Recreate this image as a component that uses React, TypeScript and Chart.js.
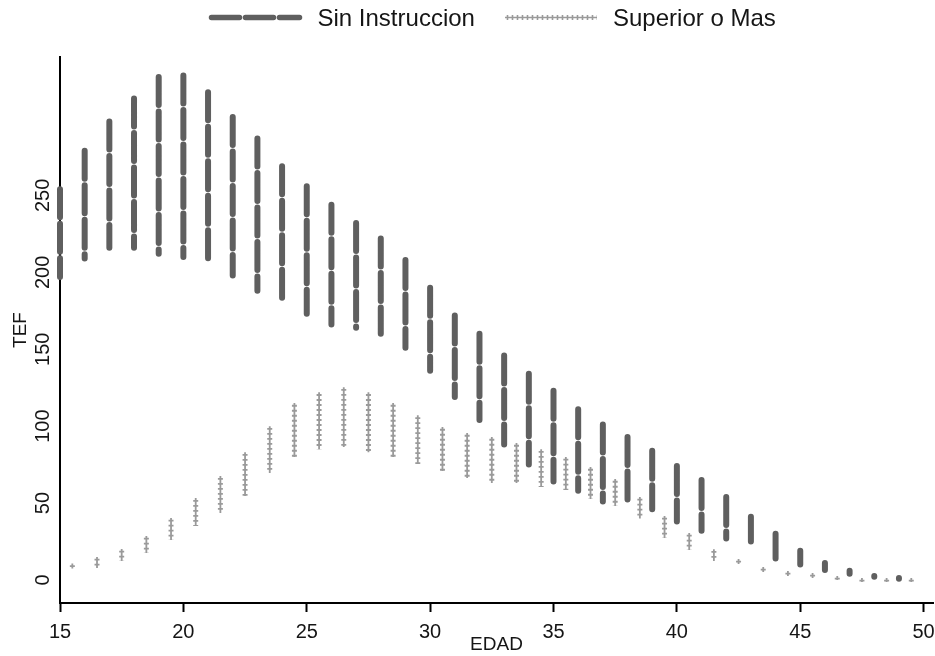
import React, { useEffect, useRef } from "react";
import Chart from "chart.js/auto";

// ---- Data ----
const ages = [15, 16, 17, 18, 19, 20, 21, 22, 23, 24, 25, 26, 27, 28, 29, 30, 31, 32, 33, 34, 35, 36, 37, 38, 39, 40, 41, 42, 43, 44, 45, 46, 47, 48, 49];
const sinHi = [254, 279, 298, 313, 327, 328, 317, 301, 287, 269, 256, 244, 232, 222, 208, 190, 172, 160, 146, 134, 123, 111, 101, 93, 84, 74, 65, 54, 41, 30, 19, 11, 6, 2.5, 1.2];
const sinLo = [197, 209, 216, 216, 212, 210, 206, 198, 188, 181, 173, 166, 164, 160, 151, 136, 119, 104, 88, 75, 64, 58, 51, 49, 46, 38, 32, 27, 25, 14, 10, 6.5, 4, 2, 0.8];

const supAges = [15.5, 16.5, 17.5, 18.5, 19.5, 20.5, 21.5, 22.5, 23.5, 24.5, 25.5, 26.5, 27.5, 28.5, 29.5, 30.5, 31.5, 32.5, 33.5, 34.5, 35.5, 36.5, 37.5, 38.5, 39.5, 40.5, 41.5, 42.5, 43.5, 44.5, 45.5, 46.5, 47.5, 48.5, 49.5];
const supHi = [10.7, 14.9, 20.1, 28.6, 40.3, 53.2, 67.5, 83, 100, 115, 122, 125.3, 122, 115, 107, 99.4, 95.5, 92.9, 89, 85, 80, 73.4, 65.6, 54, 41.6, 30.5, 20, 13.6, 8.4, 5.8, 4.5, 2.6, 1.3, 1.3, 1.3];
const supLo = [7.5, 7.8, 12.3, 17.5, 26, 35, 43.5, 54.5, 69.5, 80, 85, 86.4, 83, 80, 75.3, 70.8, 66.2, 63, 63, 60.4, 58.5, 52.6, 48, 40, 27.3, 19.5, 12.3, 10.4, 5.2, 2.6, 1.3, 0, -1.3, -1.3, -1.3];

const xTickValues = [15, 20, 25, 30, 35, 40, 45, 50];
const yTickValues = [0, 50, 100, 150, 200, 250];

const seriesNames = ["Sin Instruccion", "Superior o Mas"];
const xTitle = "EDAD";
const yTitle = "TEF";

const DARK = "#5f5f5f";
const LIGHT = "#9a9a9a";
const TEXT = "#151515";
const FONT = '"Liberation Sans", Arial, sans-serif';

function ranges(xs: number[], hi: number[], lo: number[]) {
  const out: { x: number; y: number | null }[] = [];
  xs.forEach((x, i) => {
    out.push({ x, y: hi[i] });
    out.push({ x, y: lo[i] });
    out.push({ x, y: null });
  });
  return out;
}

const yLabelPlugin = {
  id: "yLabels",
  afterDraw(chart: any) {
    const scale = chart.scales.y;
    const ctx = chart.ctx;
    ctx.save();
    ctx.font = `20px ${FONT}`;
    ctx.fillStyle = TEXT;
    ctx.textAlign = "center";
    ctx.textBaseline = "middle";
    yTickValues.forEach((v) => {
      const py = scale.getPixelForValue(v);
      ctx.save();
      ctx.translate(scale.right - 17, py);
      ctx.rotate(-Math.PI / 2);
      ctx.fillText(String(v), 0, 0);
      ctx.restore();
    });
    ctx.restore();
  },
};

export default function App() {
  const ref = useRef<HTMLCanvasElement | null>(null);

  useEffect(() => {
    if (!ref.current) return;
    const chart = new Chart(ref.current, {
      type: "scatter",
      data: {
        datasets: [
          {
            label: seriesNames[0],
            data: ranges(ages, sinHi, sinLo),
            showLine: true,
            borderColor: DARK,
            backgroundColor: DARK,
            borderWidth: 6,
            borderDash: [28, 6.5],
            borderCapStyle: "round",
            pointRadius: 0,
            pointHoverRadius: 0,
            spanGaps: false,
            clip: false,
          } as any,
          {
            label: seriesNames[1],
            data: ranges(supAges, supHi, supLo),
            showLine: true,
            borderColor: LIGHT,
            backgroundColor: LIGHT,
            borderWidth: 5,
            borderDash: [1.8, 3.2],
            borderDashOffset: 3.2,
            borderCapStyle: "butt",
            pointRadius: 0,
            pointHoverRadius: 0,
            spanGaps: false,
            clip: false,
          } as any,
          {
            label: seriesNames[1] + " stem",
            data: ranges(supAges, supHi, supLo),
            showLine: true,
            borderColor: LIGHT,
            backgroundColor: LIGHT,
            borderWidth: 1.8,
            borderCapStyle: "butt",
            pointRadius: 0,
            pointHoverRadius: 0,
            spanGaps: false,
            clip: false,
          } as any,
        ],
      },
      options: {
        animation: false,
        responsive: false,
        devicePixelRatio: 1,
        layout: { padding: { left: 9, top: 57, right: 2, bottom: 0 } },
        plugins: {
          legend: { display: false },
          tooltip: { enabled: false },
        },
        scales: {
          x: {
            type: "linear",
            position: "bottom",
            min: 15,
            max: 50.38,
            afterBuildTicks: (axis: any) => {
              axis.ticks = xTickValues.map((v) => ({ value: v }));
            },
            afterFit: (scale: any) => {
              scale.height = 53;
              scale.paddingLeft = 0;
              scale.paddingRight = 0;
            },
            ticks: {
              font: { size: 20, family: FONT },
              color: TEXT,
              padding: 8,
              maxRotation: 0,
              autoSkip: false,
              callback: (v: any) => String(v),
            },
            grid: {
              display: true,
              drawOnChartArea: false,
              drawTicks: true,
              tickLength: 9,
              tickWidth: 2,
              tickColor: "#000",
            },
            border: { display: true, color: "#000", width: 2 },
            title: {
              display: true,
              text: xTitle,
              color: TEXT,
              font: { size: 19, family: FONT, lineHeight: 1.2 },
              padding: { top: 0, bottom: 0 },
            },
          },
          y: {
            type: "linear",
            min: -15,
            max: 340,
            afterFit: (scale: any) => {
              scale.width = 51;
              scale.paddingTop = 0;
              scale.paddingBottom = 0;
            },
            ticks: { display: false },
            grid: { display: false },
            border: { display: true, color: "#000", width: 2 },
            title: {
              display: true,
              text: yTitle,
              color: TEXT,
              font: { size: 19, family: FONT, lineHeight: 1.2 },
              padding: { top: 0, bottom: 0 },
            },
          },
        },
      } as any,
      plugins: [yLabelPlugin],
    });
    return () => chart.destroy();
  }, []);

  const textStyle: React.CSSProperties = {
    position: "absolute",
    top: 6,
    fontFamily: FONT,
    fontSize: 24,
    lineHeight: "24px",
    color: TEXT,
    whiteSpace: "nowrap",
  };

  return (
    <div style={{ position: "absolute", left: 0, top: 0, width: 935, height: 656, background: "#fff" }}>
      <canvas ref={ref} width={935} height={656} style={{ position: "absolute", left: 0, top: 0, width: 935, height: 656 }} />
      <svg style={{ position: "absolute", left: 0, top: 0 }} width={935} height={40}>
        <line x1={211.5} y1={17.5} x2={299.5} y2={17.5} stroke={DARK} strokeWidth={5.5} strokeDasharray="28 6" strokeLinecap="round" />
        <line x1={505} y1={17.5} x2={597} y2={17.5} stroke={LIGHT} strokeWidth={1.6} />
        <line x1={505} y1={17.5} x2={597} y2={17.5} stroke={LIGHT} strokeWidth={5} strokeDasharray="1.6 3.4" strokeDashoffset={3.3} />
      </svg>
      <div style={{ ...textStyle, left: 317.5 }}>{seriesNames[0]}</div>
      <div style={{ ...textStyle, left: 613 }}>{seriesNames[1]}</div>
    </div>
  );
}
